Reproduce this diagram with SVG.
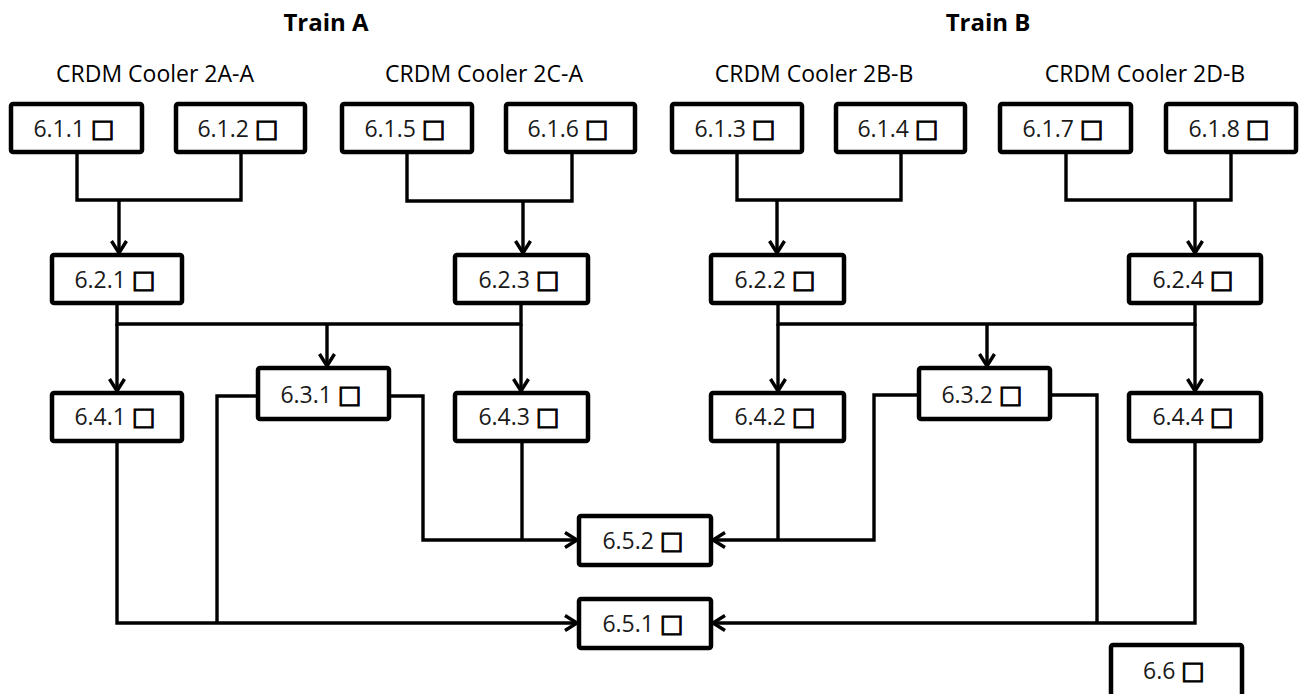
<svg xmlns="http://www.w3.org/2000/svg" width="1300" height="694" viewBox="0 0 1300 694">
  <style>
    .box { fill: #fff; stroke: #000; stroke-width: 4.5; }
    .lbl { font-family: "Open Sans", "Liberation Sans", sans-serif; font-size: 23px; fill: #1a1a1a; text-anchor: middle; }
    .sq { font-family: "DejaVu Sans", "Liberation Sans", sans-serif; font-size: 25px; font-weight: bold; fill: #000; stroke: #000; stroke-width: 1; }
    .train { font-family: "Open Sans", "Liberation Sans", sans-serif; font-size: 24px; font-weight: bold; fill: #000; text-anchor: middle; }
    .grp { font-family: "Open Sans", "Liberation Sans", sans-serif; font-size: 23px; fill: #000; text-anchor: middle; }
    .wire { fill: none; stroke: #000; stroke-width: 3.4; stroke-linejoin: miter; }
    .arr { marker-end: url(#chev); }
  </style>
  <defs>
    <marker id="chev" markerUnits="userSpaceOnUse" viewBox="0 0 16 18" markerWidth="16" markerHeight="18" refX="14" refY="9" orient="auto">
      <path d="M2,1.5 L14,9 L2,16.5" fill="none" stroke="#000" stroke-width="3.4"/>
    </marker>
  </defs>

  <rect width="1300" height="694" fill="#fff"/>

  <!-- headings -->
  <text class="train" x="326" y="31">Train A</text>
  <text class="train" x="988" y="31">Train B</text>
  <text class="grp" x="155" y="82">CRDM Cooler 2A-A</text>
  <text class="grp" x="484" y="82">CRDM Cooler 2C-A</text>
  <text class="grp" x="814" y="82">CRDM Cooler 2B-B</text>
  <text class="grp" x="1145" y="82">CRDM Cooler 2D-B</text>

  <!-- connectors -->
  <g id="connectors">
    <!-- coolers into 6.2.x -->
    <path class="wire" d="M77,154 V200 H241 V154"/>
    <path class="wire arr" d="M119,200 V253"/>
    <path class="wire" d="M407,154 V201 H572 V154"/>
    <path class="wire arr" d="M523,201 V253"/>
    <path class="wire" d="M737,154 V200 H901 V154"/>
    <path class="wire arr" d="M777,200 V253"/>
    <path class="wire" d="M1066,154 V200 H1231 V154"/>
    <path class="wire arr" d="M1195,200 V253"/>

    <!-- train A distribution -->
    <path class="wire" d="M117,305 V324 H521 V305"/>
    <path class="wire arr" d="M117,324 V391"/>
    <path class="wire arr" d="M327,324 V366"/>
    <path class="wire arr" d="M521,324 V391"/>

    <!-- train B distribution -->
    <path class="wire" d="M778,305 V324 H1195 V305"/>
    <path class="wire arr" d="M778,324 V391"/>
    <path class="wire arr" d="M987,324 V366"/>
    <path class="wire arr" d="M1195,324 V391"/>

    <!-- into 6.5.2 -->
    <path class="wire arr" d="M391,396 H423 V540 H577"/>
    <path class="wire" d="M522,443 V540"/>
    <path class="wire arr" d="M917,395 H874 V540 H713"/>
    <path class="wire" d="M778,443 V540"/>

    <!-- into 6.5.1 -->
    <path class="wire arr" d="M117,443 V623 H577"/>
    <path class="wire" d="M256,396 H217 V623"/>
    <path class="wire arr" d="M1195,443 V623 H713"/>
    <path class="wire" d="M1052,395 H1097 V623"/>
  </g>

  <!-- cooler row -->
  <g id="n611"><rect class="box" x="11" y="104" width="131" height="48" rx="2"/><text class="lbl" x="74" y="137">6.1.1 <tspan class="sq">□</tspan></text></g>
  <g id="n612"><rect class="box" x="176" y="104" width="129" height="48" rx="2"/><text class="lbl" x="238" y="137">6.1.2 <tspan class="sq">□</tspan></text></g>
  <g id="n615"><rect class="box" x="342" y="104" width="130" height="48" rx="2"/><text class="lbl" x="405" y="137">6.1.5 <tspan class="sq">□</tspan></text></g>
  <g id="n616"><rect class="box" x="506" y="104" width="129" height="48" rx="2"/><text class="lbl" x="568" y="137">6.1.6 <tspan class="sq">□</tspan></text></g>
  <g id="n613"><rect class="box" x="672" y="104" width="130" height="48" rx="2"/><text class="lbl" x="735" y="137">6.1.3 <tspan class="sq">□</tspan></text></g>
  <g id="n614"><rect class="box" x="836" y="104" width="129" height="48" rx="2"/><text class="lbl" x="898" y="137">6.1.4 <tspan class="sq">□</tspan></text></g>
  <g id="n617"><rect class="box" x="1000" y="104" width="131" height="48" rx="2"/><text class="lbl" x="1063" y="137">6.1.7 <tspan class="sq">□</tspan></text></g>
  <g id="n618"><rect class="box" x="1166" y="104" width="130" height="48" rx="2"/><text class="lbl" x="1229" y="137">6.1.8 <tspan class="sq">□</tspan></text></g>

  <!-- 6.2.x -->
  <g id="n621"><rect class="box" x="52" y="255" width="130" height="48" rx="2"/><text class="lbl" x="115" y="288">6.2.1 <tspan class="sq">□</tspan></text></g>
  <g id="n623"><rect class="box" x="455" y="255" width="133" height="48" rx="2"/><text class="lbl" x="519" y="288">6.2.3 <tspan class="sq">□</tspan></text></g>
  <g id="n622"><rect class="box" x="711" y="255" width="133" height="48" rx="2"/><text class="lbl" x="775" y="288">6.2.2 <tspan class="sq">□</tspan></text></g>
  <g id="n624"><rect class="box" x="1129" y="255" width="132" height="48" rx="2"/><text class="lbl" x="1193" y="288">6.2.4 <tspan class="sq">□</tspan></text></g>

  <!-- 6.3.x -->
  <g id="n631"><rect class="box" x="258" y="368" width="131" height="51" rx="2"/><text class="lbl" x="321" y="403">6.3.1 <tspan class="sq">□</tspan></text></g>
  <g id="n632"><rect class="box" x="919" y="368" width="131" height="51" rx="2"/><text class="lbl" x="982" y="403">6.3.2 <tspan class="sq">□</tspan></text></g>

  <!-- 6.4.x -->
  <g id="n641"><rect class="box" x="52" y="393" width="130" height="48" rx="2"/><text class="lbl" x="115" y="425">6.4.1 <tspan class="sq">□</tspan></text></g>
  <g id="n643"><rect class="box" x="455" y="393" width="133" height="48" rx="2"/><text class="lbl" x="519" y="425">6.4.3 <tspan class="sq">□</tspan></text></g>
  <g id="n642"><rect class="box" x="711" y="393" width="133" height="48" rx="2"/><text class="lbl" x="775" y="425">6.4.2 <tspan class="sq">□</tspan></text></g>
  <g id="n644"><rect class="box" x="1129" y="393" width="132" height="48" rx="2"/><text class="lbl" x="1193" y="425">6.4.4 <tspan class="sq">□</tspan></text></g>

  <!-- 6.5.x -->
  <g id="n652"><rect class="box" x="579" y="516" width="132" height="49" rx="2"/><text class="lbl" x="643" y="549">6.5.2 <tspan class="sq">□</tspan></text></g>
  <g id="n651"><rect class="box" x="579" y="599" width="132" height="49" rx="2"/><text class="lbl" x="643" y="632">6.5.1 <tspan class="sq">□</tspan></text></g>

  <!-- 6.6 -->
  <g id="n66"><rect class="box" x="1111" y="645" width="131" height="52" rx="2"/><text class="lbl" x="1174" y="679">6.6 <tspan class="sq">□</tspan></text></g>
</svg>
